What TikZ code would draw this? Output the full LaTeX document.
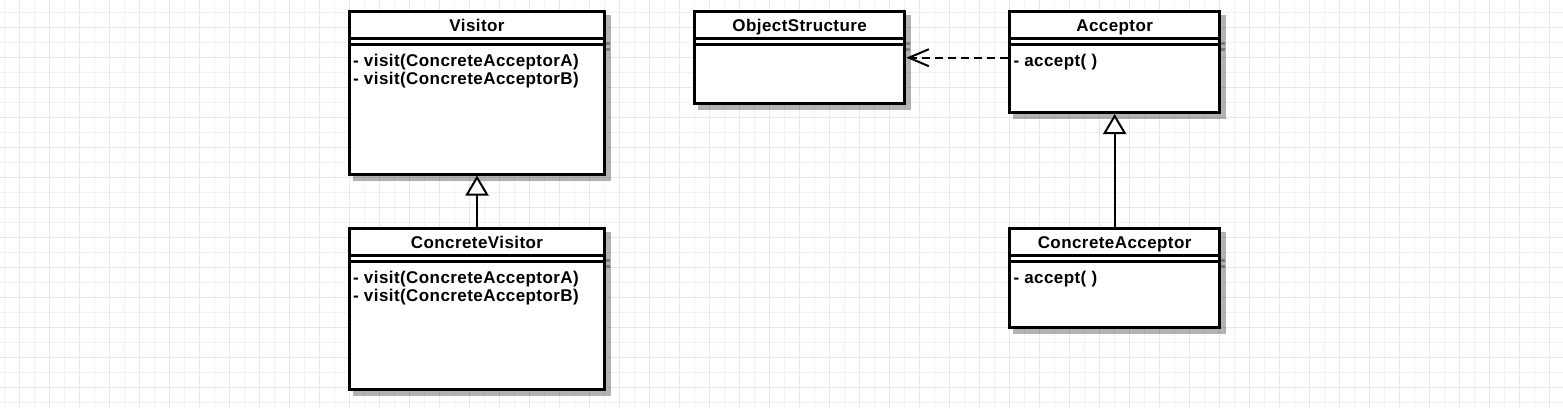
\documentclass[tikz,border=0pt]{standalone}
\usepackage{fontspec}
\setmainfont{Liberation Sans}
\newfontfamily\umlfont[LetterSpace=2.5]{Liberation Sans}
\usetikzlibrary{arrows.meta}
\pgfdeclarelayer{gridlayer}
\pgfdeclarelayer{shadowlayer}
\pgfsetlayers{gridlayer,shadowlayer,main}
\definecolor{gridmajor}{RGB}{231,229,244}
\definecolor{gridminor}{RGB}{242,241,250}
\begin{document}
\begin{tikzpicture}[x=1pt,y=-1pt,
  umlbox/.style={draw=black, line width=3pt, fill=white, rectangle, anchor=north west, inner sep=0pt, outer sep=0pt},
  sepline/.style={draw=black, line width=3pt},
  shadowfill/.style={fill=black, opacity=0.3},
  shadowline/.style={draw=black, opacity=0.3, line width=3pt},
  title/.style={font=\umlfont\fontsize{17}{19}\selectfont\bfseries, inner sep=0pt, anchor=base},
  member/.style={font=\umlfont\fontsize{17}{19}\selectfont\bfseries, inner sep=0pt, anchor=base west},
  inh/.style={draw=black, line width=2pt, -{Triangle[open, length=20pt, width=23pt, fill=white]}, shorten >=1.5pt},
  dep/.style={draw=black, line width=2pt, dash pattern=on 8pt off 5pt, -{Straight Barb[length=20pt, width=17pt]}, shorten >=1.5pt, shorten <=1.5pt}
]
\useasboundingbox (0,0) rectangle (1563,408);

% grid
\begin{pgfonlayer}{gridlayer}
  \fill[white] (0,0) rectangle (1563,408);
  \foreach \i in {0,...,104}{\ifodd\i\else\draw[gridminor, line width=1pt] (4+15*\i,0) -- (4+15*\i,408);\fi}
  \foreach \j in {0,...,26}{\ifodd\j\else\draw[gridminor, line width=1pt] (0,12+15*\j) -- (1563,12+15*\j);\fi}
  \foreach \i in {0,...,104}{\ifodd\i\draw[gridmajor, line width=1pt] (4+15*\i,0) -- (4+15*\i,408);\fi}
  \foreach \j in {0,...,26}{\ifodd\j\draw[gridmajor, line width=1pt] (0,12+15*\j) -- (1563,12+15*\j);\fi}
\end{pgfonlayer}

% boxes
\node[umlbox, minimum width=255pt, minimum height=162.5pt] (visitor) at (349.5,11.5) {};
\node[umlbox, minimum width=255pt, minimum height=161pt] (cvisitor) at (349.5,228.5) {};
\node[umlbox, minimum width=210.3pt, minimum height=91.5pt] (objstr) at (694.5,11.5) {};
\node[umlbox, minimum width=209.7pt, minimum height=101pt] (acceptor) at (1009.8,11.5) {};
\node[umlbox, minimum width=209.7pt, minimum height=99pt] (cacceptor) at (1009.8,228.5) {};

% separators and shadows
\foreach \b in {visitor,cvisitor,objstr,acceptor,cacceptor}{
  \draw[sepline] ([yshift=-27pt]\b.north west) -- ([yshift=-27pt]\b.north east);
  \draw[sepline] ([yshift=-32.5pt]\b.north west) -- ([yshift=-32.5pt]\b.north east);
  \begin{pgfonlayer}{shadowlayer}
    \fill[shadowfill] ([shift={(3.5,3.5)}]\b.north west) rectangle ([shift={(6.5,6.5)}]\b.south east);
    \draw[shadowline] ([shift={(5,32)}]\b.north west) -- ([shift={(5,32)}]\b.north east);
    \draw[shadowline] ([shift={(5,37.5)}]\b.north west) -- ([shift={(5,37.5)}]\b.north east);
  \end{pgfonlayer}
}

% titles
\node[title] (tvisitor) at ([yshift=-20.2pt]visitor.north) {Visitor};
\node[title] (tcvisitor) at ([yshift=-20.2pt]cvisitor.north) {ConcreteVisitor};
\node[title] (tobjstr) at ([yshift=-20.2pt]objstr.north) {ObjectStructure};
\node[title] (tacceptor) at ([yshift=-20.2pt]acceptor.north) {Acceptor};
\node[title] (tcacceptor) at ([yshift=-20.2pt]cacceptor.north) {ConcreteAcceptor};

% members
\node[member] (mv1) at ([xshift=3.5pt,yshift=-54.5pt]visitor.north west) {- visit(ConcreteAcceptorA)};
\node[member] (mv2) at ([xshift=3.5pt,yshift=-73pt]visitor.north west) {- visit(ConcreteAcceptorB)};
\node[member] (mcv1) at ([xshift=3.5pt,yshift=-54.5pt]cvisitor.north west) {- visit(ConcreteAcceptorA)};
\node[member] (mcv2) at ([xshift=3.5pt,yshift=-73pt]cvisitor.north west) {- visit(ConcreteAcceptorB)};
\node[member] (ma1) at ([xshift=3.5pt,yshift=-54.5pt]acceptor.north west) {- accept( )};
\node[member] (mca1) at ([xshift=3.5pt,yshift=-54.5pt]cacceptor.north west) {- accept( )};

% connectors
\coordinate (depy) at (0,57.7);
\draw[inh] (cvisitor.north) -- (visitor.south);
\draw[inh] (cacceptor.north) -- (acceptor.south);
\draw[dep] (acceptor.west |- depy) -- (objstr.east |- depy);
\end{tikzpicture}
\end{document}
